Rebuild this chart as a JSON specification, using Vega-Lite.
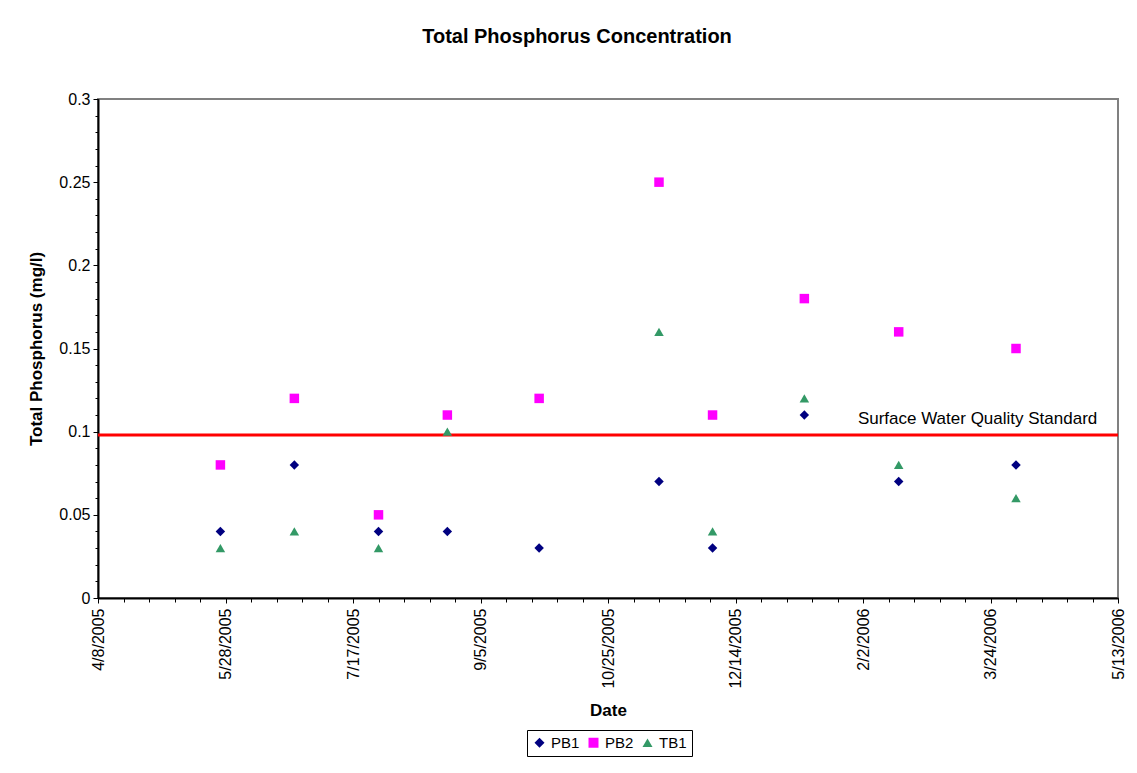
{
  "$schema": "https://vega.github.io/schema/vega-lite/v6.json",
  "width": 1020,
  "height": 499,
  "autosize": {"type": "none"},
  "padding": {"left": 98, "top": 99, "right": 19, "bottom": 175},
  "background": "white",
  "title": {"text": "Total Phosphorus Concentration", "font": "Liberation Sans", "fontSize": 20, "fontWeight": "bold", "color": "black", "offset": 44, "dx": -31, "anchor": "middle"},
  "config": {
    "view": {"stroke": "#808080", "strokeWidth": 2},
    "axis": {"grid": false, "labelFont": "Liberation Sans", "titleFont": "Liberation Sans", "labelColor": "black", "titleColor": "black", "tickColor": "black", "domainColor": "black"},
    "legend": {"orient": "none", "legendX": 429, "legendY": 631, "direction": "horizontal", "strokeColor": "black", "strokeWidth": 1, "fillColor": "white", "padding": 5, "labelFont": "Liberation Sans", "labelFontSize": 15, "labelColor": "black", "symbolSize": 100, "labelOffset": 4, "columnPadding": 6, "symbolStrokeWidth": 0}
  },
  "datasets": {
    "obs": [
      {"date": "2005-05-26", "series": "PB1", "value": 0.04},
      {"date": "2005-06-24", "series": "PB1", "value": 0.08},
      {"date": "2005-07-27", "series": "PB1", "value": 0.04},
      {"date": "2005-08-23", "series": "PB1", "value": 0.04},
      {"date": "2005-09-28", "series": "PB1", "value": 0.03},
      {"date": "2005-11-14", "series": "PB1", "value": 0.07},
      {"date": "2005-12-05", "series": "PB1", "value": 0.03},
      {"date": "2006-01-10", "series": "PB1", "value": 0.11},
      {"date": "2006-02-16", "series": "PB1", "value": 0.07},
      {"date": "2006-04-03", "series": "PB1", "value": 0.08},
      {"date": "2005-05-26", "series": "PB2", "value": 0.08},
      {"date": "2005-06-24", "series": "PB2", "value": 0.12},
      {"date": "2005-07-27", "series": "PB2", "value": 0.05},
      {"date": "2005-08-23", "series": "PB2", "value": 0.11},
      {"date": "2005-09-28", "series": "PB2", "value": 0.12},
      {"date": "2005-11-14", "series": "PB2", "value": 0.25},
      {"date": "2005-12-05", "series": "PB2", "value": 0.11},
      {"date": "2006-01-10", "series": "PB2", "value": 0.18},
      {"date": "2006-02-16", "series": "PB2", "value": 0.16},
      {"date": "2006-04-03", "series": "PB2", "value": 0.15},
      {"date": "2005-05-26", "series": "TB1", "value": 0.03},
      {"date": "2005-06-24", "series": "TB1", "value": 0.04},
      {"date": "2005-07-27", "series": "TB1", "value": 0.03},
      {"date": "2005-08-23", "series": "TB1", "value": 0.10},
      {"date": "2005-11-14", "series": "TB1", "value": 0.16},
      {"date": "2005-12-05", "series": "TB1", "value": 0.04},
      {"date": "2006-01-10", "series": "TB1", "value": 0.12},
      {"date": "2006-02-16", "series": "TB1", "value": 0.08},
      {"date": "2006-04-03", "series": "TB1", "value": 0.06}
    ],
    "std": [
      {"date": "2006-01-31", "value": 0.098, "label": "Surface Water Quality Standard"}
    ]
  },
  "layer": [
    {
      "data": {"name": "std"},
      "mark": {"type": "rule", "color": "#FF0000", "strokeWidth": 3},
      "encoding": {
        "y": {"field": "value", "type": "quantitative", "axis": null}
      }
    },
    {
      "data": {"name": "obs"},
      "mark": {"type": "point", "opacity": 0},
      "encoding": {
        "x": {"field": "date", "type": "temporal", "axis": {"orient": "bottom", "values": [1112918400000,1113782400000,1114646400000,1115510400000,1116374400000,1117238400000,1118102400000,1118966400000,1119830400000,1120694400000,1121558400000,1122422400000,1123286400000,1124150400000,1125014400000,1125878400000,1126742400000,1127606400000,1128470400000,1129334400000,1130198400000,1131062400000,1131926400000,1132790400000,1133654400000,1134518400000,1135382400000,1136246400000,1137110400000,1137974400000,1138838400000,1139702400000,1140566400000,1141430400000,1142294400000,1143158400000,1144022400000,1144886400000,1145750400000,1146614400000,1147478400000], "labels": false, "domain": false, "tickSize": 4, "title": null}},
        "y": {"field": "value", "type": "quantitative", "axis": {"orient": "left", "values": [0,0.01,0.02,0.03,0.04,0.05,0.06,0.07,0.08,0.09,0.1,0.11,0.12,0.13,0.14,0.15,0.16,0.17,0.18,0.19,0.2,0.21,0.22,0.23,0.24,0.25,0.26,0.27,0.28,0.29,0.3], "labels": false, "domain": false, "tickSize": 3, "title": null}}
      }
    },
    {
      "data": {"name": "obs"},
      "mark": {"type": "point", "filled": true, "opacity": 1, "size": 90},
      "encoding": {
        "x": {"field": "date", "type": "temporal", "scale": {"type": "utc", "domain": [1112918400000, 1147478400000]},
          "axis": {"orient": "bottom", "values": [1112918400000,1117238400000,1121558400000,1125878400000,1130198400000,1134518400000,1138838400000,1143158400000,1147478400000], "labelExpr": "utcFormat(datum.value, '%-m/%-d/%Y')", "labelAngle": 270, "labelFontSize": 16, "labelPadding": 5, "tickSize": 5, "domainWidth": 2, "labelOverlap": false, "labelFlush": false, "title": "Date", "titleFontSize": 17, "titleFontWeight": "bold", "titlePadding": 14}},
        "y": {"field": "value", "type": "quantitative", "scale": {"domain": [0, 0.3], "nice": false},
          "axis": {"orient": "left", "values": [0,0.05,0.1,0.15,0.2,0.25,0.3], "format": ".2~f", "labelFontSize": 16, "labelPadding": 3, "tickSize": 5, "domainWidth": 2, "labelOverlap": false, "labelFlush": false, "title": "Total Phosphorus (mg/l)", "titleFontSize": 17, "titleFontWeight": "bold", "titlePadding": 13}},
        "shape": {"field": "series", "type": "nominal", "scale": {"domain": ["PB1", "PB2", "TB1"], "range": ["diamond", "square", "triangle-up"]}, "legend": {"title": null}},
        "color": {"field": "series", "type": "nominal", "scale": {"domain": ["PB1", "PB2", "TB1"], "range": ["#000080", "#FF00FF", "#339966"]}, "legend": {"title": null}}
      }
    },
    {
      "data": {"name": "std"},
      "mark": {"type": "text", "align": "left", "baseline": "alphabetic", "dy": -11, "font": "Liberation Sans", "fontSize": 17, "color": "black"},
      "encoding": {
        "x": {"field": "date", "type": "temporal", "axis": null},
        "y": {"field": "value", "type": "quantitative", "axis": null},
        "text": {"field": "label"}
      }
    }
  ],
  "resolve": {"axis": {"x": "independent", "y": "independent"}}
}
